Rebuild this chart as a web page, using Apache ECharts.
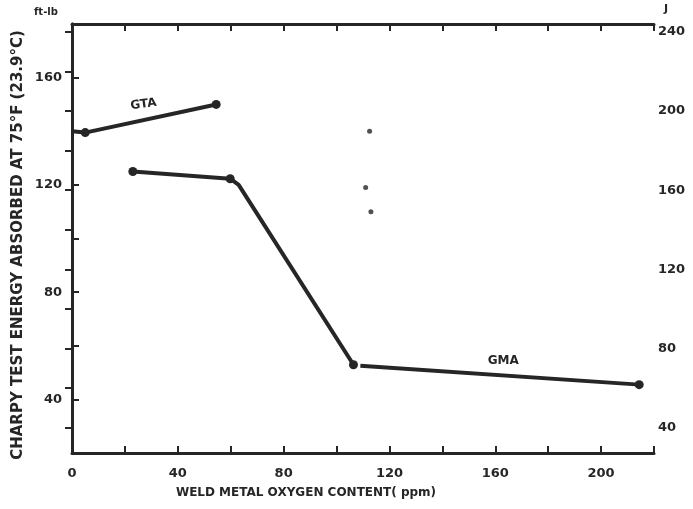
<!DOCTYPE html>
<html>
<head>
<meta charset="utf-8">
<script src="https://cdn.jsdelivr.net/npm/echarts@6/dist/echarts.min.js"></script>
<style>
html,body{margin:0;padding:0;background:#fff;}
#chart{width:693px;height:509px;}
</style>
</head>
<body>
<div id="chart"></div>
<script>
// Data
var xTickLabels = [0, 40, 80, 120, 160, 200];
var leftTickLabels = [40, 80, 120, 160];
var rightTickLabels = [40, 80, 120, 160, 200, 240];
var rightTicks = [40, 60, 80, 100, 120, 140, 160, 180, 200, 220, 240];

var gtaX = [0, 5, 54.5];
var gtaY = [140, 139.5, 150];
var gtaMarked = [false, true, true];

var gmaX = [23, 59.8, 63, 106.4, null, 109, 214.4];
var gmaY = [125, 122.3, 120, 52.9, null, 52.5, 45.5];
var gmaMarked = [true, true, false, true, false, false, true];

var scatterX = [112.5, 111, 113];
var scatterY = [140, 119, 110];

var FT_LB_TO_J = 1.3558;
var yMin = 20, yMax = 180;

var ink = '#262626';
var font = '"DejaVu Sans", sans-serif';

function pairs(xs, ys, marked) {
  return xs.map(function (x, i) {
    if (x === null) return ['-', '-'];
    return {
      value: [x, ys[i]],
      symbolSize: marked[i] ? 9 : 0
    };
  });
}

var chart = echarts.init(document.getElementById('chart'));
var axisLine = {show: true, lineStyle: {color: ink, width: 3}};
var tick = {show: true, inside: true, length: 7, lineStyle: {color: ink, width: 2}};
var labelStyle = {color: ink, fontFamily: font, fontWeight: 'bold', fontSize: 13};

chart.setOption({
  animation: false,
  backgroundColor: '#fff',
  grid: {left: 72, right: 39, top: 24, bottom: 56},
  xAxis: [{
    type: 'value', min: 0, max: 220, interval: 20, position: 'bottom',
    axisLine: axisLine, axisTick: tick, splitLine: {show: false},
    axisLabel: Object.assign({margin: 14, customValues: xTickLabels}, labelStyle)
  }, {
    type: 'value', min: 0, max: 220, interval: 20, position: 'top',
    axisLine: axisLine, axisTick: tick, splitLine: {show: false},
    axisLabel: {show: false}
  }],
  yAxis: [{
    type: 'value', min: yMin, max: yMax, interval: 20, position: 'left',
    axisLine: axisLine, axisTick: tick, splitLine: {show: false},
    axisLabel: Object.assign({margin: 10, customValues: leftTickLabels}, labelStyle)
  }, {
    type: 'value', min: yMin * FT_LB_TO_J, max: yMax * FT_LB_TO_J, position: 'right',
    axisLine: axisLine, splitLine: {show: false},
    axisTick: Object.assign({customValues: rightTicks}, tick),
    axisLabel: Object.assign({margin: 4, customValues: rightTickLabels}, labelStyle)
  }],
  series: [{
    name: 'GTA', type: 'line', xAxisIndex: 0, yAxisIndex: 0,
    data: pairs(gtaX, gtaY, gtaMarked),
    symbol: 'circle', itemStyle: {color: ink},
    lineStyle: {color: ink, width: 4},
    markPoint: {
      symbol: 'circle', symbolSize: 0,
      data: [{coord: [27, 150], label: {show: true, formatter: 'GTA', color: ink, fontFamily: font, fontWeight: 'bold', fontSize: 12, rotate: 8}}]
    }
  }, {
    name: 'GMA', type: 'line', xAxisIndex: 0, yAxisIndex: 0,
    data: pairs(gmaX, gmaY, gmaMarked),
    connectNulls: false,
    symbol: 'circle', itemStyle: {color: ink},
    lineStyle: {color: ink, width: 4},
    markPoint: {
      symbol: 'circle', symbolSize: 0,
      data: [{coord: [163, 54.5], label: {show: true, formatter: 'GMA', color: ink, fontFamily: font, fontWeight: 'bold', fontSize: 12}}]
    }
  }, {
    name: 'points', type: 'scatter', xAxisIndex: 0, yAxisIndex: 0,
    data: scatterX.map(function (x, i) { return [x, scatterY[i]]; }),
    symbol: 'circle', symbolSize: 5, itemStyle: {color: ink}
  }],
  graphic: [{
    type: 'text', left: 34, top: 7,
    style: {text: 'ft-lb', fill: ink, font: 'bold 10px ' + font}
  }, {
    type: 'text', left: 664, top: 4,
    style: {text: 'J', fill: ink, font: 'bold 11px ' + font}
  }, {
    type: 'text', x: 18, y: 245, rotation: Math.PI / 2,
    style: {text: 'CHARPY TEST ENERGY ABSORBED AT 75°F (23.9°C)', fill: ink,
      font: 'bold 15px ' + font, align: 'center', verticalAlign: 'middle'}
  }, {
    type: 'text', x: 306, y: 493,
    style: {text: 'WELD METAL OXYGEN CONTENT( ppm)', fill: ink,
      font: 'bold 12px ' + font, align: 'center', verticalAlign: 'middle'}
  }]
});
</script>
</body>
</html>
